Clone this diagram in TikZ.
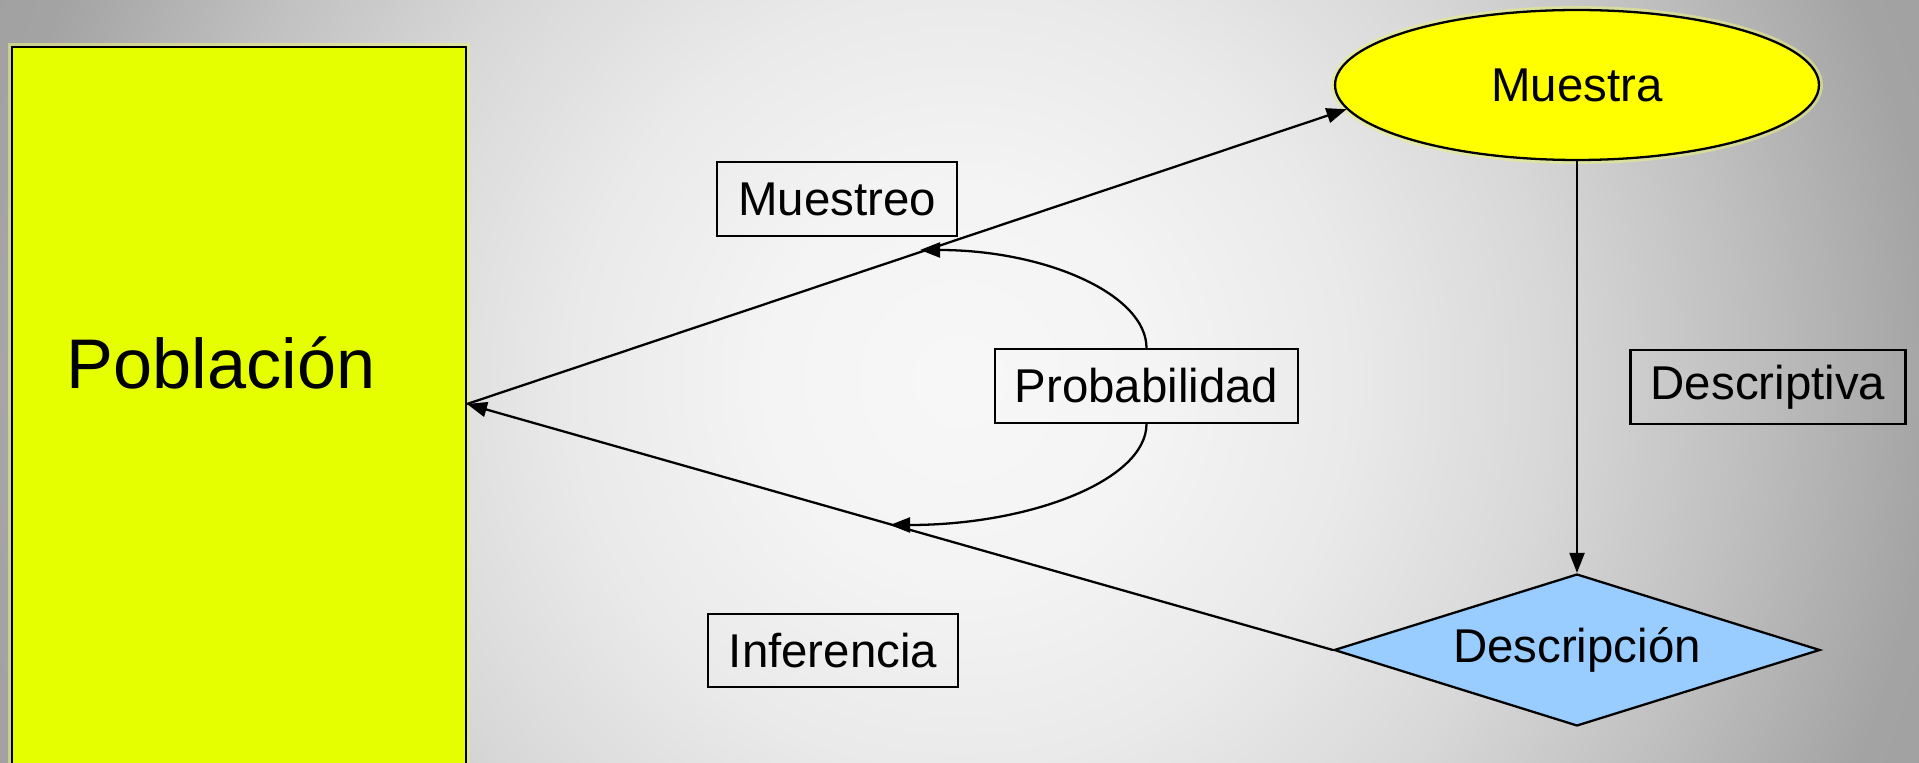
\documentclass[tikz,border=0pt]{standalone}
\usepackage{fontspec}
\setmainfont{Liberation Sans}
\usepackage{tikz}
\usetikzlibrary{arrows.meta,shapes.geometric,positioning}
\usepackage{xcolor}
\definecolor{popyellow}{RGB}{230,255,0}
\definecolor{sampleyellow}{RGB}{255,255,0}
\definecolor{desclightblue}{RGB}{153,204,255}
\definecolor{glowyellow}{RGB}{232,238,130}
\pgfdeclareradialshading{bgshade}{\pgfpoint{0bp}{0bp}}{rgb(0bp)=(.97,.97,.97); rgb(5bp)=(.956,.956,.956); rgb(10bp)=(.916,.916,.916); rgb(15bp)=(.848,.848,.848); rgb(20bp)=(.752,.752,.752); rgb(25bp)=(.64,.64,.64); rgb(50bp)=(.52,.52,.52)}
\tikzstyle{popbox} = [rectangle, minimum width=9.08cm, minimum height=15.06cm, inner sep=0pt, draw=black, fill=popyellow, line width=1.3pt, preaction={draw=glowyellow, line width=4.5pt, opacity=0.6}]
\tikzstyle{sampleshape} = [ellipse, minimum width=9.68cm, minimum height=3cm, inner sep=0pt, draw=black, fill=sampleyellow, line width=1.3pt, preaction={draw=glowyellow, line width=4.5pt, opacity=0.6}, font=\fontsize{27}{32}\selectfont]
\tikzstyle{descshape} = [diamond, aspect=3.2, minimum width=9.72cm, minimum height=3.04cm, inner sep=0pt, draw=black, fill=desclightblue, line width=1.3pt, font=\fontsize{27}{32}\selectfont]
\tikzstyle{labelbox} = [rectangle, minimum height=1.47cm, inner sep=0pt, draw=black, line width=1.3pt, font=\fontsize{27}{32}\selectfont]
\tikzstyle{arrow} = [line width=1.3pt, -{Triangle[length=0.4cm, width=0.3cm]}]

\begin{document}
\begin{tikzpicture}[x=0.02cm, y=-0.02cm]
\useasboundingbox (0,0) rectangle (1919,763);
\clip (0,0) rectangle (1919,763);
% background
\shade[shading=bgshade] (-15,-594) rectangle (1935,1356);

% shapes
\node[popbox] (pob) at (239,423.5) {};
\node[font=\fontsize{40}{48}\selectfont] (poblabel) at (221,363) {Población};
\node[sampleshape] (muestra) at (1577,85) {Muestra};
\node[descshape] (desc) at (1577,650) {Descripción};

\node[labelbox, minimum width=4.8cm] (muestreo) at (837,199) {Muestreo};
\node[labelbox, minimum width=6.06cm] (prob) at (1146.5,386) {Probabilidad};
\node[labelbox, minimum width=5.5cm] (descriptiva) at (1768,387) {Descriptiva};
\node[labelbox, minimum width=5cm] (inferencia) at (833,650.5) {Inferencia};

\coordinate (pobin) at (467,404);
\coordinate (ptop) at (920,250);
\coordinate (pbot) at (890,525);

% connectors
\draw[arrow] (pobin) -- (muestra.186);
\draw[arrow] (desc.west) -- (pobin);
\draw[arrow] (muestra.south) -- (desc.north);
\draw[arrow] (prob.north) .. controls +(0,-54) and +(125,0) .. (ptop);
\draw[arrow] (prob.south) .. controls +(0,56) and +(141,0) .. (pbot);
\end{tikzpicture}
\end{document}
